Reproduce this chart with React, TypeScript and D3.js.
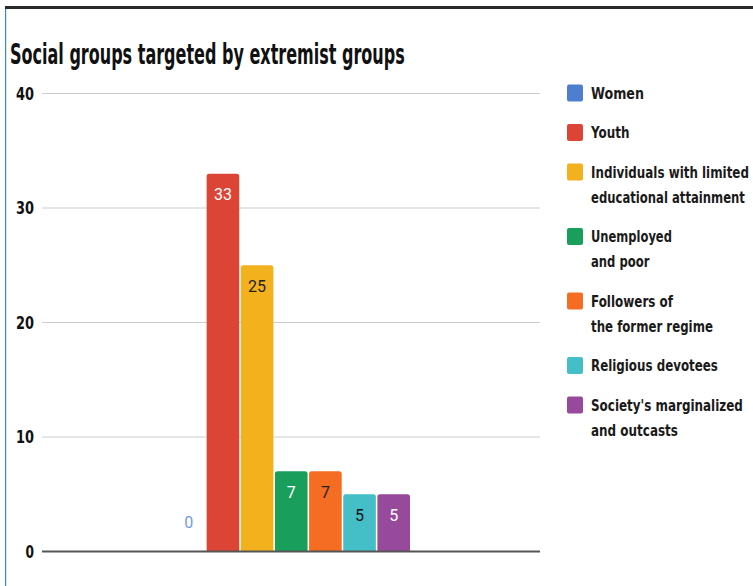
import React from "react";
import * as d3 from "d3";

const title = "Social groups targeted by extremist groups";
const seriesNames: string[][] = [
  ["Women"],
  ["Youth"],
  ["Individuals with limited", "educational attainment"],
  ["Unemployed", "and poor"],
  ["Followers of", "the former regime"],
  ["Religious devotees"],
  ["Society's marginalized", "and outcasts"],
];
// measured widths of the condensed legend lines in the reference
const legendWidths: number[][] = [
  [53],
  [38.5],
  [158, 154],
  [81, 58.5],
  [82, 122],
  [127],
  [152, 87],
];
const values = [0, 33, 25, 7, 7, 5, 5];
const colors = ["#4e7fcf", "#dc4535", "#f3b21d", "#199e5b", "#f46d22", "#44bec7", "#974a9c"];
const labelColors = ["#6f9be0", "#ffffff", "#222222", "#ffffff", "#222222", "#111111", "#ffffff"];
const yTicks = [0, 10, 20, 30, 40];

const W = 753;
const H = 586;
const narrow = "'DejaVu Sans', sans-serif";

let ctx: CanvasRenderingContext2D | null = null;
function measure(text: string, size: number): number {
  if (!ctx && typeof document !== "undefined") {
    ctx = document.createElement("canvas").getContext("2d");
  }
  if (!ctx) return text.length * size * 0.6;
  ctx.font = `bold ${size}px 'DejaVu Sans', sans-serif`;
  return ctx.measureText(text).width;
}

function CondText(props: {
  x: number;
  y: number;
  text: string;
  size: number;
  width: number;
  anchor?: "start" | "end";
  fill?: string;
}) {
  const nat = measure(props.text, props.size);
  const sx = props.width / nat;
  const tx = props.anchor === "end" ? props.x - props.width : props.x;
  return (
    <text
      transform={`translate(${tx},${props.y}) scale(${sx},1)`}
      dy="0.36em"
      fontFamily={narrow}
      fontWeight="bold"
      fontSize={props.size}
      fill={props.fill ?? "#1a1a1a"}
    >
      {props.text}
    </text>
  );
}

export default function App() {
  const y = d3.scaleLinear().domain([0, 40]).range([551.5, 93.5]);
  const plotX0 = 42;
  const plotX1 = 540;
  const x = d3
    .scaleBand<number>()
    .domain(d3.range(values.length))
    .range([172.5, 410])
    .paddingInner(0.045);

  const legendCenters: number[] = [];
  let cy = 93;
  seriesNames.forEach((lines) => {
    legendCenters.push(cy);
    cy += 39.5 + 25 * (lines.length - 1);
  });

  const barPath = (x0: number, w: number, yTop: number, yBase: number, r: number) => {
    const h = yBase - yTop;
    const rr = Math.min(r, h / 2, w / 2);
    return `M${x0},${yBase}V${yTop + rr}Q${x0},${yTop} ${x0 + rr},${yTop}H${x0 + w - rr}Q${x0 + w},${yTop} ${x0 + w},${yTop + rr}V${yBase}Z`;
  };

  return (
    <svg
      width={W}
      height={H}
      style={{ position: "absolute", left: 0, top: 0, background: "#fff" }}
    >
      <rect x={0} y={0} width={W} height={H} fill="#fff" />
      <rect x={5} y={6} width={W - 5} height={3} fill="#2a2a2a" />
      <rect x={5} y={9} width={1.2} height={H - 9} fill="#3a8db3" />

      <CondText x={10} y={54} text={title} size={28} width={395} fill="#111" />

      {yTicks.map((t) => (
        <g key={t}>
          {t !== 0 && (
            <line x1={plotX0} x2={plotX1} y1={y(t)} y2={y(t)} stroke="#cccccc" strokeWidth={1} />
          )}
          <CondText
            x={34}
            y={y(t)}
            text={String(t)}
            size={17}
            width={t === 0 ? 8.5 : 18}
            anchor="end"
            fill="#111"
          />
        </g>
      ))}

      {values.map((v, i) => {
        const bx = x(i)!;
        const bw = x.bandwidth();
        return (
          <g key={i}>
            {v > 0 && <path d={barPath(bx, bw, y(v), y(0), 2.5)} fill={colors[i]} />}
            <text
              x={bx + bw / 2}
              y={v > 0 ? y(v) + 21 : y(0) - 29}
              dy="0.36em"
              textAnchor="middle"
              fontFamily="Roboto, sans-serif"
              fontSize={16}
              fill={labelColors[i]}
            >
              {v}
            </text>
          </g>
        );
      })}

      <line x1={plotX0} x2={plotX1} y1={y(0)} y2={y(0)} stroke="#555" strokeWidth={2} />

      {seriesNames.map((lines, i) => (
        <g key={i}>
          <rect
            x={567}
            y={legendCenters[i] - 8.5}
            width={16}
            height={17}
            rx={2}
            fill={colors[i]}
          />
          {lines.map((ln, j) => (
            <CondText
              key={j}
              x={591}
              y={legendCenters[i] + j * 25}
              text={ln}
              size={16}
              width={legendWidths[i][j]}
            />
          ))}
        </g>
      ))}
    </svg>
  );
}
